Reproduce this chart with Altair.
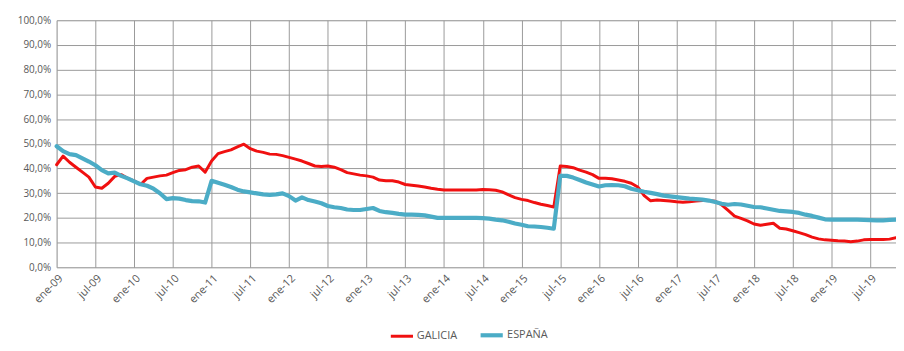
import altair as alt
import pandas as pd

# Monthly series, ene-09 .. nov-19 (131 months)
galicia = [
    41.5, 45, 42.5, 40.5, 38.5, 36.5, 32.5, 32, 34, 36.8,
    37.5, 36, 35, 33.5, 36, 36.5, 37, 37.3, 38.3, 39.2,
    39.5, 40.5, 41, 38.5, 43, 46, 46.8, 47.5, 48.7, 49.8,
    48, 47, 46.5, 45.8, 45.7, 45.2, 44.5, 43.8, 43, 42,
    41, 40.8, 41, 40.5, 39.5, 38.3, 37.8, 37.3, 37, 36.5,
    35.3, 35, 35, 34.5, 33.5, 33.2, 32.9, 32.5, 32, 31.6,
    31.3, 31.3, 31.3, 31.3, 31.3, 31.3, 31.5, 31.4, 31.2, 30.5,
    29.3, 28.2, 27.5, 27, 26.2, 25.5, 25, 24.4, 41, 40.8,
    40.3, 39.3, 38.5, 37.5, 36, 36, 35.8, 35.3, 34.8, 34,
    32.5, 29, 26.9, 27.2, 27, 26.8, 26.5, 26.3, 26.5, 26.8,
    27, 27, 26.7, 25.3, 23, 20.7, 19.8, 18.8, 17.5, 17,
    17.4, 17.8, 15.8, 15.5, 14.8, 14, 13.2, 12.2, 11.5, 11.1,
    10.9, 10.7, 10.6, 10.3, 10.6, 11.1, 11.2, 11.2, 11.2, 11.4, 12,
]
espana = [
    49, 47, 45.8, 45.4, 44.1, 42.8, 41.3, 39.3, 38, 38.3,
    37, 36, 34.8, 33.6, 33, 31.8, 30, 27.6, 28, 27.8,
    27.2, 26.8, 26.7, 26.2, 35, 34.2, 33.4, 32.5, 31.4, 30.7,
    30.3, 29.9, 29.5, 29.3, 29.5, 29.9, 28.8, 27, 28.3, 27.2,
    26.6, 25.9, 24.8, 24.3, 24, 23.4, 23.2, 23.2, 23.6, 24,
    22.8, 22.3, 22, 21.6, 21.3, 21.3, 21.2, 21, 20.5, 20,
    20, 20, 20, 20, 20, 20, 19.9, 19.7, 19.3, 19,
    18.4, 17.7, 17.2, 16.6, 16.5, 16.3, 16, 15.6, 37, 37,
    36.3, 35.3, 34.3, 33.5, 32.7, 33.2, 33.3, 33.2, 32.8, 31.8,
    31.2, 30.6, 30.1, 29.6, 29, 28.7, 28.4, 28.1, 27.8, 27.6,
    27.4, 27, 26.4, 25.7, 25.3, 25.6, 25.4, 24.9, 24.4, 24.3,
    23.8, 23.3, 22.8, 22.6, 22.4, 22, 21.3, 20.8, 20.1, 19.4,
    19.3, 19.3, 19.3, 19.3, 19.3, 19.2, 19.1, 19, 19, 19.2, 19.3,
]
tick_labels = [
    "ene-09", "jul-09", "ene-10", "jul-10", "ene-11", "jul-11",
    "ene-12", "jul-12", "ene-13", "jul-13", "ene-14", "jul-14",
    "ene-15", "jul-15", "ene-16", "jul-16", "ene-17", "jul-17",
    "ene-18", "jul-18", "ene-19", "jul-19",
]
series_names = ["GALICIA", "ESPAÑA"]
series_colors = ["#f01010", "#4bacc6"]

assert len(galicia) == len(espana)
n = len(galicia)

rows = []
for name, vals in zip(series_names, [galicia, espana]):
    for i, v in enumerate(vals):
        rows.append({"m": i, "valor": v, "serie": name})
df = pd.DataFrame(rows)

label_arr = "[" + ",".join("'" + t + "'" for t in tick_labels) + "]"
x_label_expr = label_arr + "[round(datum.value/6)]"
y_label_expr = "replace(format(datum.value, '.1f'), '.', ',') + '%'"

font = "Open Sans"
label_color = "#595959"
grid_color = "#9a9a9a"

chart = (
    alt.Chart(df)
    .mark_line(strokeJoin="round", strokeCap="round")
    .encode(
        x=alt.X(
            "m:Q",
            scale=alt.Scale(domain=[0, n - 1], nice=False, zero=False),
            axis=alt.Axis(
                title=None,
                values=list(range(0, 6 * len(tick_labels), 6)),
                labelExpr=x_label_expr,
                labelAngle=-45,
                labelAlign="right",
                labelBaseline="top",
                labelPadding=5,
                ticks=False,
                domain=False,
                grid=True,
                gridColor=grid_color,
                gridWidth=1,
                labelFont=font,
                labelFontSize=11,
                labelColor=label_color,
                labelOverlap=False,
                labelFlush=False,
            ),
        ),
        y=alt.Y(
            "valor:Q",
            scale=alt.Scale(domain=[0, 100], nice=False),
            axis=alt.Axis(
                title=None,
                values=list(range(0, 101, 10)),
                labelExpr=y_label_expr,
                ticks=False,
                domain=False,
                grid=True,
                gridColor=grid_color,
                gridWidth=1,
                labelFont=font,
                labelFontSize=10,
                labelColor=label_color,
                labelPadding=6,
            ),
        ),
        color=alt.Color(
            "serie:N",
            scale=alt.Scale(domain=series_names, range=series_colors),
            sort=series_names,
            legend=alt.Legend(
                title=None,
                orient="none",
                legendX=335,
                legendY=304,
                direction="horizontal",
                symbolType="stroke",
                symbolStrokeWidth=3.5,
                symbolSize=500,
                labelFont=font,
                labelFontSize=11,
                labelColor=label_color,
                labelOffset=2,
                columnPadding=14,
            ),
        ),
        strokeWidth=alt.StrokeWidth(
            "serie:N",
            scale=alt.Scale(domain=series_names, range=[3, 4.2]),
            legend=None,
        ),
        order=alt.Order("m:Q"),
    )
    .properties(
        width=846,
        height=249,
        autosize=alt.AutoSizeParams(type="none"),
        padding={"left": 49, "top": 11, "right": 0, "bottom": 75},
    )
    .configure_view(stroke=None)
    .configure(background="white")
)

chart.save("out.html", embed_options={"renderer": "svg", "actions": False})
